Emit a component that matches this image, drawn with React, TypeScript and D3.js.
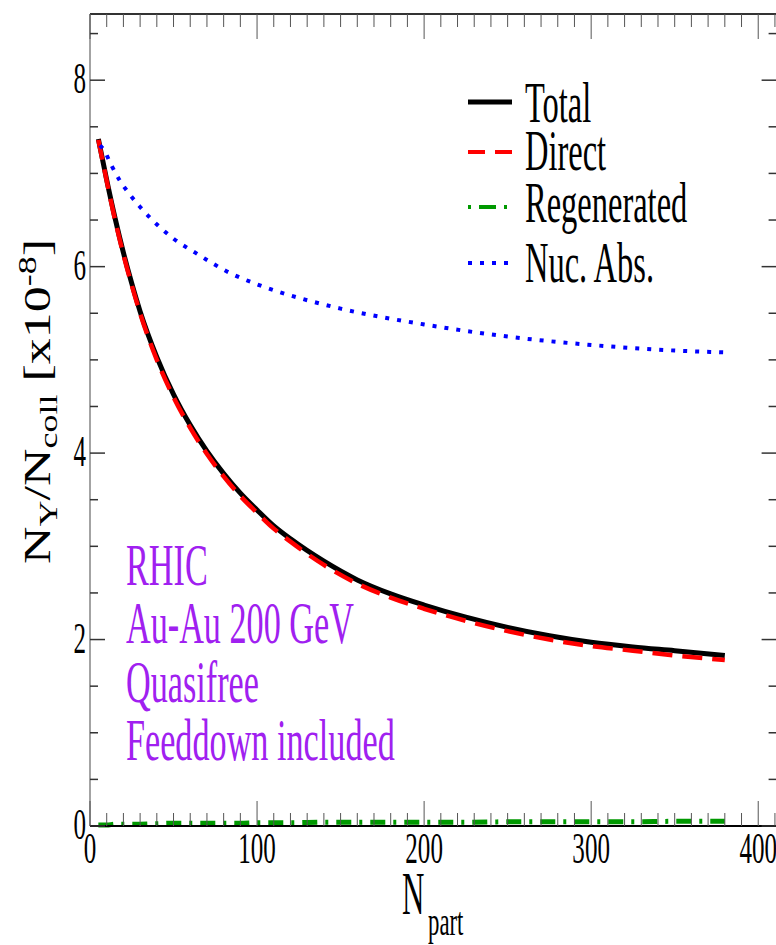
import React from "react";
import * as d3 from "d3";

const npart = [5, 10, 15, 20, 25, 30, 40, 50, 60, 70, 80, 90, 100, 110, 120, 140, 160, 180, 200, 225, 250, 275, 300, 325, 350, 380];
const total = [7.37, 6.93, 6.52, 6.15, 5.82, 5.52, 5.03, 4.63, 4.30, 4.02, 3.78, 3.57, 3.39, 3.22, 3.08, 2.84, 2.64, 2.49, 2.37, 2.24, 2.13, 2.04, 1.97, 1.92, 1.88, 1.83];
const direct = [7.36, 6.92, 6.50, 6.13, 5.80, 5.50, 5.00, 4.60, 4.27, 3.99, 3.75, 3.54, 3.36, 3.19, 3.05, 2.80, 2.60, 2.45, 2.33, 2.20, 2.09, 2.00, 1.93, 1.88, 1.83, 1.78];
const regenerated = [0.01, 0.01, 0.02, 0.02, 0.02, 0.02, 0.025, 0.03, 0.03, 0.03, 0.03, 0.03, 0.035, 0.035, 0.035, 0.04, 0.04, 0.04, 0.04, 0.04, 0.045, 0.045, 0.045, 0.045, 0.05, 0.05];
const npartAbs = [6, 8, 13, 18, 24, 30, 42, 50, 63, 84, 100, 113, 150, 200, 250, 300, 350, 380];
const nucAbs = [7.30, 7.26, 7.08, 6.92, 6.77, 6.64, 6.42, 6.30, 6.15, 5.93, 5.81, 5.73, 5.55, 5.38, 5.25, 5.16, 5.10, 5.08];

const xTicks = [0, 100, 200, 300, 400];
const yTicks = [0, 2, 4, 6, 8];
const legendLabels = ["Total", "Direct", "Regenerated", "Nuc. Abs."];
const annotations = ["RHIC", "Au-Au 200 GeV", "Quasifree", "Feeddown included"];

const W = 776;
const H = 945;
const L = 90, R = 776.6, T = 14, B = 826;
const SX = 0.57;
const FONT = "'Liberation Serif', 'Times New Roman', serif";

const x = d3.scaleLinear().domain([0, 411]).range([L, R]);
const y = d3.scaleLinear().domain([0, 8.71]).range([B, T]);

function SText({ x: tx, y: ty, size, anchor = "start", fill = "#000", children }: any) {
  return (
    <text
      transform={`translate(${tx},${ty}) scale(${SX},1)`}
      fontSize={size}
      fontFamily={FONT}
      textAnchor={anchor}
      fill={fill}
    >
      {children}
    </text>
  );
}

export default function App() {
  const line = d3
    .line<[number, number]>()
    .x((d) => x(d[0]))
    .y((d) => y(d[1]))
    .curve(d3.curveMonotoneX);

  const pts = (xs: number[], ys: number[]) => xs.map((v, i) => [v, ys[i]] as [number, number]);

  const xMinor = d3.range(0, 411, 10);
  const yMinor = d3.range(0, 8.71, 0.5);

  const legendY = [102, 152, 207, 263];
  const legendTextY = [122, 170, 222, 282];
  const legendStyles = [
    { stroke: "#000", dash: undefined, w: 5 },
    { stroke: "#ff0000", dash: "17,10", w: 4 },
    { stroke: "#009900", dash: "3,8,17,8", w: 4 },
    { stroke: "#0000ff", dash: "4,8", w: 4 },
  ];

  return (
    <svg width={W} height={H} style={{ position: "absolute", left: 0, top: 0, background: "#fff" }}>
      <rect x={0} y={0} width={W} height={H} fill="#fff" />
      {/* curves */}
      <path d={line(pts(npart, total)) || ""} fill="none" stroke="#000" strokeWidth={5} />
      <path d={line(pts(npart, direct)) || ""} fill="none" stroke="#ff0000" strokeWidth={4.5} strokeDasharray="20,10" />
      <path d={line(pts(npart, regenerated)) || ""} fill="none" stroke="#009900" strokeWidth={5} strokeDasharray="15,8,3,8" />
      <path d={line(pts(npartAbs, nucAbs)) || ""} fill="none" stroke="#0000ff" strokeWidth={4} strokeDasharray="4,8" />

      {/* axes frame */}
      <line x1={L} x2={W} y1={T} y2={T} stroke="#333" strokeWidth={2} />
      <line x1={L} x2={W} y1={B} y2={B} stroke="#000" strokeWidth={2} />
      <line x1={L} x2={L} y1={T} y2={B} stroke="#666" strokeWidth={1.2} />

      {/* x ticks */}
      {xMinor.map((v) => {
        const major = v % 100 === 0;
        const len = major ? 25 : 13;
        return (
          <g key={"xt" + v}>
            <line x1={x(v)} x2={x(v)} y1={B} y2={B - len} stroke="#555" strokeWidth={1} />
            <line x1={x(v)} x2={x(v)} y1={T} y2={T + len} stroke="#555" strokeWidth={1} />
          </g>
        );
      })}
      {/* y ticks */}
      {yMinor.map((v) => {
        const major = Math.abs(v % 2) < 1e-6;
        const len = major ? 15 : 8;
        return (
          <g key={"yt" + v}>
            <line x1={L} x2={L + len} y1={y(v)} y2={y(v)} stroke="#333" strokeWidth={1.5} />
            <line x1={R} x2={R - len} y1={y(v)} y2={y(v)} stroke="#333" strokeWidth={1.5} />
          </g>
        );
      })}

      {/* tick labels */}
      {xTicks.map((v) => (
        <SText key={"xl" + v} x={x(v)} y={B + 37} size={44} anchor="middle">
          {v}
        </SText>
      ))}
      {yTicks.map((v) => (
        <SText key={"yl" + v} x={86} y={y(v) + 13} size={44} anchor="end">
          {v}
        </SText>
      ))}

      {/* x label */}
      <text transform={`translate(402,914) scale(0.5,1)`} fontSize={62} fontFamily={FONT} fill="#000">
        N
      </text>
      <SText x={428} y={935} size={40}>
        part
      </SText>

      {/* y label */}
      <text
        transform={`translate(50,564) rotate(-90) scale(1,0.72)`}
        fontSize={52}
        fontFamily={FONT}
        fill="#000"
      >
        N
        <tspan fontSize={36} dy={10}>Υ</tspan>
        <tspan dy={-10}>/N</tspan>
        <tspan fontSize={36} dy={10}>coll</tspan>
        <tspan dy={-10}> [x10</tspan>
        <tspan fontSize={36} dy={-20}>-8</tspan>
        <tspan dy={20}>]</tspan>
      </text>

      {/* legend */}
      {legendLabels.map((lab, i) => (
        <g key={"lg" + i}>
          <line
            x1={468}
            x2={512}
            y1={legendY[i]}
            y2={legendY[i]}
            stroke={legendStyles[i].stroke}
            strokeWidth={legendStyles[i].w}
            strokeDasharray={legendStyles[i].dash}
          />
          <SText x={525} y={legendTextY[i]} size={57}>
            {lab}
          </SText>
        </g>
      ))}

      {/* annotations */}
      {annotations.map((a, i) => (
        <SText key={"an" + i} x={126} y={585 + i * 58.3} size={60} fill="#a020f0">
          {a}
        </SText>
      ))}
    </svg>
  );
}
